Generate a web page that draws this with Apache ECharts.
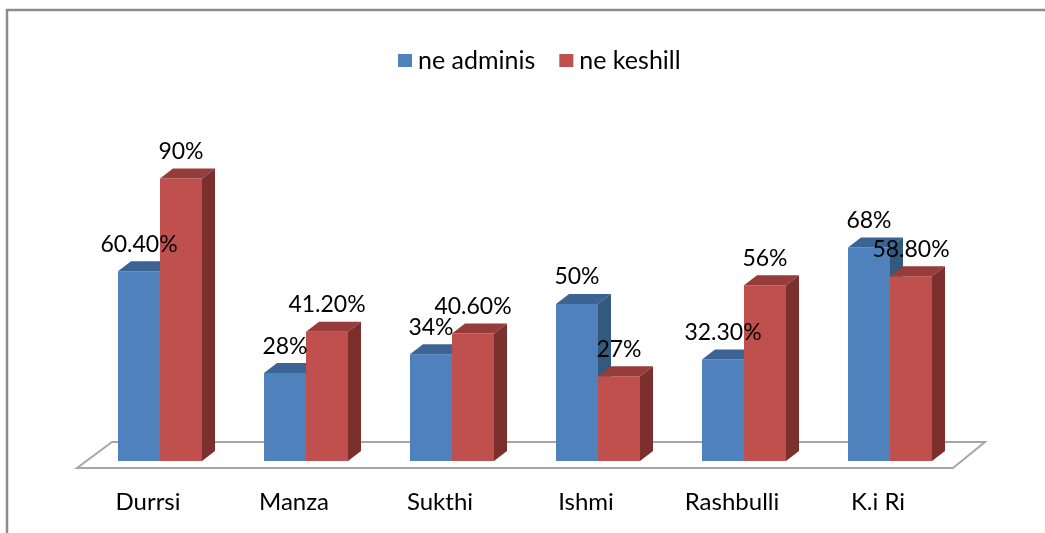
<!DOCTYPE html>
<html>
<head>
<meta charset="utf-8">
<script src="https://cdn.jsdelivr.net/npm/echarts@6/dist/echarts.min.js"></script>
<style>
  html, body { margin: 0; padding: 0; background: #fff; }
  #chart { width: 1045px; height: 533px; }
</style>
</head>
<body>
<div id="chart"></div>
<script>
// ---- data ----
var categories = ['Durrsi', 'Manza', 'Sukthi', 'Ishmi', 'Rashbulli', 'K.i Ri'];
var seriesNames = ['ne adminis', 'ne keshill'];
var adminValues = [60.4, 28, 34, 50, 32.3, 68];
var keshillValues = [90, 41.2, 40.6, 27, 56, 58.8];
var adminLabels = ['60.40%', '28%', '34%', '50%', '32.30%', '68%'];
var keshillLabels = ['90%', '41.20%', '40.60%', '27%', '56%', '58.80%'];

// ---- layout / style ----
var GRID = { left: 87, right: 82, top: 147, bottom: 72 };
var W = 1045, H = 533;
var BAR_RATIO = 42 / 146;
var DX = 13, DY = 10;
var FONT = 'Lato, "Open Sans", sans-serif';
var blue = { front: '#4F81BD', top: '#3B6494', side: '#34597F' };
var red = { front: '#C0504D', top: '#963C3A', side: '#7B302E' };

function toData(vals) { return vals.map(function (v, i) { return [i, v]; }); }

function barRenderer(side, col) {
  return function (params, api) {
    var idx = api.value(0), v = api.value(1);
    var base = api.coord([idx, 0]);
    var top = api.coord([idx, v]);
    var band = api.size([1, 0])[0];
    var w = band * BAR_RATIO;
    var x0 = side < 0 ? base[0] - w : base[0];
    var x1 = x0 + w;
    var yt = top[1], yb = base[1];
    return {
      type: 'group',
      children: [
        { type: 'rect', shape: { x: x0, y: yt, width: w, height: yb - yt }, style: { fill: col.front } },
        { type: 'polygon', shape: { points: [[x0, yt], [x0 + DX, yt - DY], [x1 + DX, yt - DY], [x1, yt]] }, style: { fill: col.top } },
        { type: 'polygon', shape: { points: [[x1, yt], [x1 + DX, yt - DY], [x1 + DX, yb - DY], [x1, yb]] }, style: { fill: col.side } }
      ]
    };
  };
}

function labelRenderer(side, labels) {
  return function (params, api) {
    var idx = api.value(0), v = api.value(1);
    var base = api.coord([idx, 0]);
    var top = api.coord([idx, v]);
    var band = api.size([1, 0])[0];
    var w = band * BAR_RATIO;
    var cx = side < 0 ? base[0] - w / 2 : base[0] + w / 2;
    return {
      type: 'text',
      style: {
        x: cx, y: top[1] - 27, text: labels[params.dataIndex],
        fill: '#000', font: '23px ' + FONT, align: 'center', verticalAlign: 'middle'
      }
    };
  };
}

var gl = GRID.left, gr = W - GRID.right, gb = H - GRID.bottom;

var chart = echarts.init(document.getElementById('chart'), null, { renderer: 'canvas' });
chart.setOption({
  animation: false,
  backgroundColor: '#fff',
  legend: {
    data: seriesNames,
    left: 393, top: 43,
    itemWidth: 14, itemHeight: 13, itemGap: 24,
    icon: 'rect',
    textStyle: { fontFamily: FONT, fontSize: 25, color: '#000', padding: [0, 0, 0, 1] }
  },
  grid: GRID,
  xAxis: {
    type: 'category', data: categories,
    axisLine: { show: false }, axisTick: { show: false },
    axisLabel: { fontFamily: FONT, fontSize: 24, color: '#000', margin: 29, padding: [0, 24, 0, 0], interval: 0 }
  },
  yAxis: { type: 'value', min: 0, max: 100, show: false, splitLine: { show: false } },
  graphic: [
    { type: 'rect', z: -1, shape: { x: 7, y: 10, width: 1100, height: 600 }, style: { fill: 'none', stroke: '#8c8c8c', lineWidth: 2.5 } },
    { type: 'polygon', z: 0, shape: { points: [[gl - 10, gb + 7], [gl + 25, gb - 19], [gr + 22, gb - 19], [gr - 10, gb + 7]] }, style: { fill: '#fff', stroke: '#a6a6a6', lineWidth: 2 } }
  ],
  series: [
    { name: seriesNames[0], type: 'custom', z: 2, itemStyle: { color: blue.front }, data: toData(adminValues), encode: { x: 0, y: 1 }, renderItem: barRenderer(-1, blue) },
    { name: seriesNames[1], type: 'custom', z: 3, itemStyle: { color: red.front }, data: toData(keshillValues), encode: { x: 0, y: 1 }, renderItem: barRenderer(1, red) },
    { type: 'custom', z: 10, silent: true, data: toData(adminValues), encode: { x: 0, y: 1 }, renderItem: labelRenderer(-1, adminLabels) },
    { type: 'custom', z: 10, silent: true, data: toData(keshillValues), encode: { x: 0, y: 1 }, renderItem: labelRenderer(1, keshillLabels) }
  ]
});
</script>
</body>
</html>
